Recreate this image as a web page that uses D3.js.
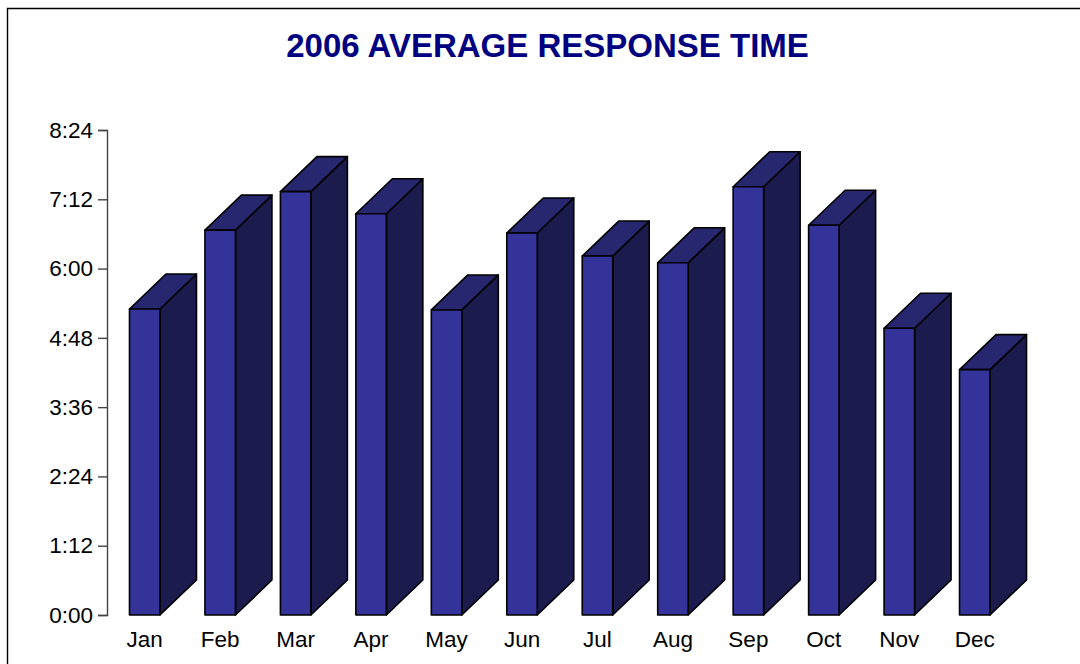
<!DOCTYPE html>
<html>
<head>
<meta charset="utf-8">
<script src="https://cdn.jsdelivr.net/npm/d3@7"></script>
<style>
  html, body { margin: 0; padding: 0; background: #fff; overflow: hidden; }
  text { font-family: "Liberation Sans", Arial, sans-serif; }
</style>
</head>
<body>
<div id="chart"></div>
<script>
// response time in minutes
var months = ["Jan", "Feb", "Mar", "Apr", "May", "Jun", "Jul", "Aug", "Sep", "Oct", "Nov", "Dec"];
var minutes = [318, 400, 440, 417, 317, 397, 373, 366, 445, 405, 298, 255];
var yTicks = [0, 72, 144, 216, 288, 360, 432, 504];

var svg = d3.select("#chart")
    .append("svg")
    .attr("width", 1080)
    .attr("height", 664);

// frame, only top and left are in view
svg.append("path")
    .attr("d", "M7.5,664V8.5H1080")
    .attr("fill", "none")
    .attr("stroke", "#000")
    .attr("stroke-width", 1.4);

svg.append("text")
    .attr("x", 547.5)
    .attr("y", 56.5)
    .attr("text-anchor", "middle")
    .attr("font-size", 33)
    .attr("font-weight", "bold")
    .attr("fill", "#000080")
    .text("2006 AVERAGE RESPONSE TIME");

var x = d3.scaleBand()
    .domain(months)
    .range([107, 1012.5])
    .paddingInner(0.596)
    .paddingOuter(0.298);

var y = d3.scaleLinear()
    .domain([0, 504])
    .range([615, 130]);

var depthX = 36.5, depthY = 35;

var bars = svg.selectAll("g.bar")
    .data(months)
    .enter()
    .append("g")
    .attr("class", "bar")
    .attr("stroke", "#000")
    .attr("stroke-width", 1.6)
    .attr("stroke-linejoin", "round");

// side face
bars.append("path")
    .attr("fill", "#1b1b4d")
    .attr("d", function(d, i) {
        var r = x(d) + x.bandwidth();
        return "M" + r + "," + y(minutes[i]) + "l" + depthX + "," + (-depthY)
            + "V" + (y(0) - depthY) + "L" + r + "," + y(0) + "Z";
    });

// top face
bars.append("path")
    .attr("fill", "#27276f")
    .attr("d", function(d, i) {
        return "M" + x(d) + "," + y(minutes[i]) + "l" + depthX + "," + (-depthY)
            + "h" + x.bandwidth() + "l" + (-depthX) + "," + depthY + "Z";
    });

// front face
bars.append("rect")
    .attr("fill", "#333399")
    .attr("x", function(d) { return x(d); })
    .attr("y", function(d, i) { return y(minutes[i]); })
    .attr("width", x.bandwidth())
    .attr("height", function(d, i) { return y(0) - y(minutes[i]); });

// Y axis
var yAxis = svg.append("g")
    .attr("transform", "translate(107,0)")
    .call(d3.axisLeft(y)
        .tickValues(yTicks)
        .tickSize(9)
        .tickPadding(5)
        .tickFormat(function(d) {
            return Math.floor(d / 60) + ":" + d3.format("02")(d % 60);
        }));
yAxis.attr("font-family", null);
yAxis.selectAll("text").attr("font-size", 22.5).attr("fill", "#000");
yAxis.selectAll("path, line").attr("stroke", "#444").attr("stroke-width", 1.4);

// X labels, no axis line in the original
svg.selectAll("text.month")
    .data(months)
    .enter()
    .append("text")
    .attr("class", "month")
    .attr("x", function(d) { return x(d) + x.bandwidth() / 2; })
    .attr("y", 647)
    .attr("text-anchor", "middle")
    .attr("font-size", 22.5)
    .attr("fill", "#000")
    .text(function(d) { return d; });
</script>
</body>
</html>
